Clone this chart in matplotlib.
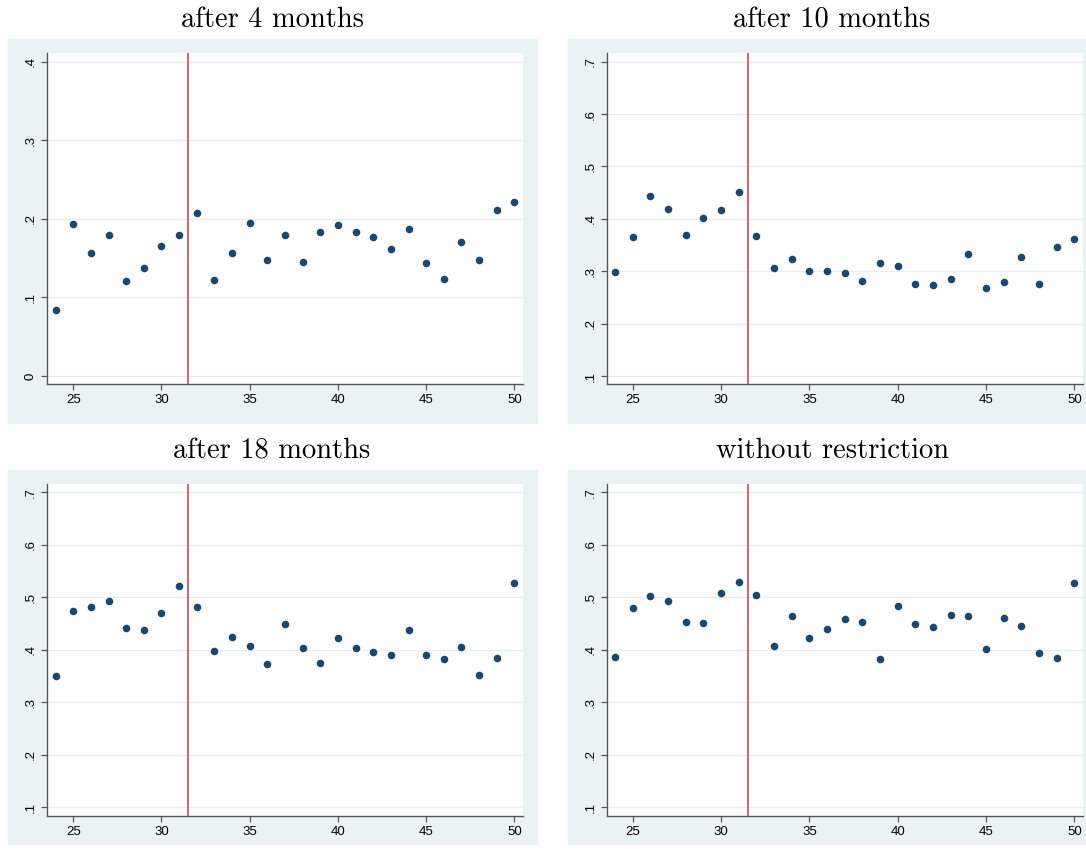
import matplotlib
matplotlib.use("Agg")
import matplotlib.pyplot as plt
from matplotlib.patches import Rectangle
import numpy as np

# age at first observation
ages = list(range(24, 51))

after_4 = [0.084, 0.193, 0.156, 0.180, 0.121, 0.138, 0.166, 0.179, 0.208,
           0.122, 0.157, 0.195, 0.148, 0.180, 0.145, 0.183, 0.192, 0.183,
           0.177, 0.162, 0.187, 0.144, 0.123, 0.171, 0.148, 0.211, 0.222]
after_10 = [0.298, 0.366, 0.443, 0.419, 0.369, 0.402, 0.416, 0.452, 0.367,
            0.306, 0.323, 0.300, 0.301, 0.297, 0.281, 0.316, 0.310, 0.275,
            0.274, 0.285, 0.333, 0.267, 0.280, 0.328, 0.276, 0.346, 0.361]
after_18 = [0.351, 0.473, 0.482, 0.493, 0.442, 0.438, 0.470, 0.522, 0.482,
            0.398, 0.425, 0.407, 0.373, 0.450, 0.403, 0.375, 0.423, 0.403,
            0.395, 0.390, 0.438, 0.391, 0.382, 0.406, 0.352, 0.384, 0.528]
no_restr = [0.386, 0.480, 0.503, 0.493, 0.452, 0.451, 0.508, 0.530, 0.504,
            0.408, 0.464, 0.423, 0.440, 0.459, 0.452, 0.383, 0.484, 0.449,
            0.443, 0.466, 0.465, 0.402, 0.461, 0.445, 0.393, 0.384, 0.528]

titles = ["after 4 months", "after 10 months", "after 18 months", "without restriction"]
series = [after_4, after_10, after_18, no_restr]
yticks_small = [0, 0.1, 0.2, 0.3, 0.4]
yticks_big = [0.1, 0.2, 0.3, 0.4, 0.5, 0.6, 0.7]
xticks = [25, 30, 35, 40, 45, 50]
cutoff = 31.5

W, H = 1086, 849
fig = plt.figure(figsize=(W / 100, H / 100), dpi=100)
bg = "#eaf2f3"
navy = "#1a476f"

# pixel boxes: (gray x0, gray x1, gray y0, gray y1, plot x0, plot x1, plot ytop, plot ybottom)
boxes = [
    (8, 537, 39, 423, 47.3, 522.7, 52.7, 384),
    (568, 1090, 39, 423, 606.7, 1082.7, 52.7, 384),
    (8, 537, 470, 844, 47.3, 522.7, 484, 815.7),
    (568, 1090, 470, 844, 606.7, 1082.7, 484, 815.7),
]
ylims = [(-0.0102, 0.4115), (0.0847, 0.717), (0.084, 0.7158), (0.084, 0.7158)]
title_x = [272, 832, 272, 832]

def fmt(v):
    s = f"{v:.1f}"
    if s == "0.0":
        return "0"
    return s.lstrip("0")

for i, (b, vals, title) in enumerate(zip(boxes, series, titles)):
    gx0, gx1, gy0, gy1, px0, px1, pyt, pyb = b
    fig.add_artist(Rectangle((gx0 / W, 1 - gy1 / H), (gx1 - gx0) / W, (gy1 - gy0) / H,
                             transform=fig.transFigure, color=bg, zorder=-5))
    fig.text(title_x[i] / W, 1 - (gy0 - 19) / H, title,
             ha="center", va="center", fontsize=20.5, fontfamily="cmr10")
    ax = fig.add_axes([px0 / W, 1 - pyb / H, (px1 - px0) / W, (pyb - pyt) / H])
    ax.set_facecolor("white")
    ticks = yticks_small if i == 0 else yticks_big
    ax.set_xlim(23.53, 50.47)
    ax.set_ylim(*ylims[i])
    ax.set_yticks(ticks)
    ax.set_yticklabels([fmt(t) for t in ticks], rotation=90, va="center",
                       fontfamily="Liberation Sans", fontsize=9.5)
    ax.set_xticks(xticks)
    ax.set_xticklabels([str(t) for t in xticks], fontfamily="Liberation Sans", fontsize=9.5)
    ax.tick_params(length=4.5, width=0.9, color="#555555", pad=3)
    ax.grid(axis="y", color="#e6eef0", linewidth=0.9)
    ax.set_axisbelow(True)
    for s in ["top", "right"]:
        ax.spines[s].set_visible(False)
    for s in ["left", "bottom"]:
        ax.spines[s].set_color("#555555")
        ax.spines[s].set_linewidth(1.0)
    ax.axvline(cutoff, color="#d1465f", linewidth=1.2, zorder=2)
    ax.scatter(ages, vals, s=30, color=navy, zorder=3, linewidths=0)

fig.savefig("out.png", dpi=100)
